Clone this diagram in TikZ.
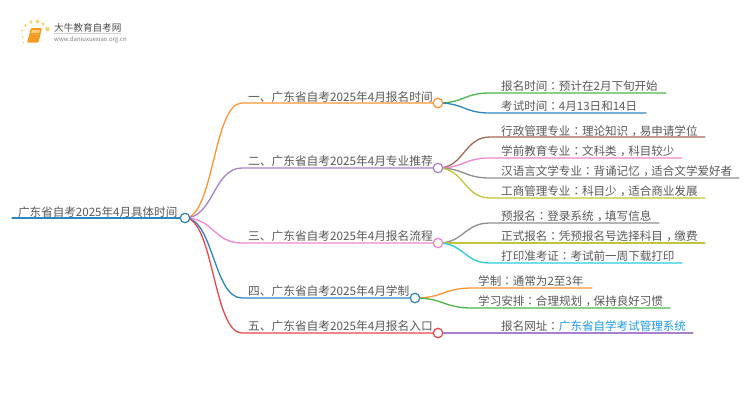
\documentclass[tikz,border=0pt]{standalone}
\usepackage{fontspec}
\usetikzlibrary{calc}
\setmainfont{Noto Sans CJK SC}
\newfontfamily\tcfont{Noto Sans CJK TC}
\newcommand{\cln}{{\tcfont ：}}
\newcommand{\cma}{\kern.3em，\kern-.3em}
\definecolor{ctext}{HTML}{5A5A5A}
\definecolor{cblue}{HTML}{2E86C1}
\definecolor{corange}{HTML}{FF9433}
\definecolor{cpurple}{HTML}{A97FD0}
\definecolor{cpink}{HTML}{EE86D0}
\definecolor{cred}{HTML}{E8474C}
\definecolor{cgreen}{HTML}{4CB84C}
\definecolor{cbrown}{HTML}{A5695A}
\definecolor{cgrey}{HTML}{8E8E8E}
\definecolor{cyellow}{HTML}{C4C43A}
\definecolor{ccyan}{HTML}{2CCBDD}
\definecolor{clink}{HTML}{1E9BEA}
\definecolor{csun}{HTML}{FBD27A}
\definecolor{cbook}{HTML}{F59A23}
\tikzset{
  txt/.style={anchor=base west,inner sep=0pt,text=ctext,font=\fontsize{11.55pt}{12pt}\selectfont},
  ltxt/.style={txt,font=\fontsize{11.7pt}{12pt}\selectfont},
  hub/.style={circle,draw=#1,fill=white,line width=1.25pt,minimum size=9.5pt,inner sep=0pt},
  wire/.style={line width=1.3pt,line cap=round},
}
\newcommand{\curvelink}[4]{\coordinate (mid) at ($(#2.center)!.5!(#3)$);\draw[wire,#1] (#2.center) .. controls (mid |- #2.center) and (mid |- #3) .. (#3) -- (#4);}
\begin{document}
\begin{tikzpicture}[x=1pt,y=-1pt]
\useasboundingbox (0,0) rectangle (750,410);
\fill[white] (0,0) rectangle (750,410);
% logo
\fill[csun] (25.5,25.5) circle (1.6) (31,22) circle (1.9) (37.5,21.5) circle (2) (43,24) circle (1.9) (47.5,29) circle (2.3) (22,30.5) circle (1.2) (22.5,37) circle (1) (23.5,42.5) circle (.8);
\fill[cbook,rounded corners=1pt] (31,28) -- (42,28) -- (38.5,42.5) -- (27,42.5) -- cycle;
\fill[csun] (32,30) -- (40,30) -- (39.2,33) -- (31.2,33) -- cycle;
\node[anchor=base west,inner sep=0pt,text=black!70,font=\fontsize{9.6pt}{10pt}\selectfont] (logot) at (54,31) {大牛教育自考网};
\node[anchor=base west,inner sep=0pt,text=black!50,font=\fontsize{6pt}{7pt}\selectfont] (logou) at (54,41) {www.daniuxuexiao.org.cn};
\draw[black!18,line width=.5pt] (54,33.5) -- (121,33.5);
% end coordinates
\coordinate (b1s) at (242,103); \coordinate (b1e) at (433,103);
\coordinate (b2s) at (242,168); \coordinate (b2e) at (433,168);
\coordinate (b3s) at (242,243); \coordinate (b3e) at (433,243);
\coordinate (b4s) at (242,298); \coordinate (b4e) at (410,298);
\coordinate (b5s) at (242,333); \coordinate (b5e) at (433,333);
\coordinate (r0) at (12,218);
\coordinate (c11s) at (490,93);  \coordinate (c11e) at (666,93);
\coordinate (c12s) at (490,113); \coordinate (c12e) at (646,113);
\coordinate (c21s) at (490,137); \coordinate (c21e) at (705,137);
\coordinate (c22s) at (490,158); \coordinate (c22e) at (682,158);
\coordinate (c23s) at (490,178); \coordinate (c23e) at (739,178);
\coordinate (c24s) at (490,198); \coordinate (c24e) at (705,198);
\coordinate (c31s) at (490,223); \coordinate (c31e) at (659,223);
\coordinate (c32s) at (490,243); \coordinate (c32e) at (705,243);
\coordinate (c33s) at (490,263); \coordinate (c33e) at (682,263);
\coordinate (c41s) at (472,288); \coordinate (c41e) at (592,288);
\coordinate (c42s) at (472,308); \coordinate (c42e) at (670,308);
\coordinate (c51e) at (693,333);
% hub positions
\coordinate (root) at (185,218);
\coordinate (h1) at (438,103);
\coordinate (h2) at (438,168);
\coordinate (h3) at (438,243);
\coordinate (h4) at (415,298);
\coordinate (h5) at (438,333);
% connectors
\draw[wire,cblue] (r0) -- (root);
\curvelink{corange}{root}{b1s}{b1e}
\curvelink{cpurple}{root}{b2s}{b2e}
\curvelink{cpink}{root}{b3s}{b3e}
\curvelink{cblue}{root}{b4s}{b4e}
\curvelink{cred}{root}{b5s}{b5e}
\curvelink{cgreen}{h1}{c11s}{c11e}
\curvelink{cblue}{h1}{c12s}{c12e}
\curvelink{cbrown}{h2}{c21s}{c21e}
\curvelink{cpink}{h2}{c22s}{c22e}
\curvelink{cgrey}{h2}{c23s}{c23e}
\curvelink{cyellow}{h2}{c24s}{c24e}
\curvelink{cgrey}{h3}{c31s}{c31e}
\curvelink{cyellow}{h3}{c32s}{c32e}
\curvelink{ccyan}{h3}{c33s}{c33e}
\curvelink{corange}{h4}{c41s}{c41e}
\curvelink{cgreen}{h4}{c42s}{c42e}
\draw[wire,cpurple] (h5) -- (c51e);
% hubs on top
\node[hub=cblue] (nroot) at (root) {};
\node[hub=corange] (n1) at (h1) {};
\node[hub=cpurple] (n2) at (h2) {};
\node[hub=cpink] (n3) at (h3) {};
\node[hub=cblue] (n4) at (h4) {};
\node[hub=cred] (n5) at (h5) {};
% text
\node[txt] (troot) at (18,216) {广东省自考2025年4月具体时间};
\node[ltxt] (t1) at (248,101) {一、广东省自考2025年4月报名时间};
\node[ltxt] (t2) at (248,165) {二、广东省自考2025年4月专业推荐};
\node[ltxt] (t3) at (248,240) {三、广东省自考2025年4月报名流程};
\node[ltxt] (t4) at (248,295) {四、广东省自考2025年4月学制};
\node[ltxt] (t5) at (248,330) {五、广东省自考2025年4月报名入口};
\node[txt] (t11) at (501,90) {报名时间\cln 预计在2月下旬开始};
\node[txt] (t12) at (501,110) {考试时间\cln 4月13日和14日};
\node[txt] (t21) at (501,135) {行政管理专业\cln 理论知识\cma 易申请学位};
\node[txt] (t22) at (501,155) {学前教育专业\cln 文科类\cma 科目较少};
\node[txt] (t23) at (501,175) {汉语言文学专业\cln 背诵记忆\cma 适合文学爱好者};
\node[txt] (t24) at (501,195) {工商管理专业\cln 科目少\cma 适合商业发展};
\node[txt] (t31) at (501,220) {预报名\cln 登录系统\cma 填写信息};
\node[txt] (t32) at (501,240) {正式报名\cln 凭预报名号选择科目\cma 缴费};
\node[txt] (t33) at (501,260) {打印准考证\cln 考试前一周下载打印};
\node[txt] (t41) at (478,285) {学制\cln 通常为2至3年};
\node[txt] (t42) at (478,305) {学习安排\cln 合理规划\cma 保持良好习惯};
\node[txt] (t51) at (501,330) {报名网址\cln \textcolor{clink}{广东省自学考试管理系统}};
\end{tikzpicture}
\end{document}
